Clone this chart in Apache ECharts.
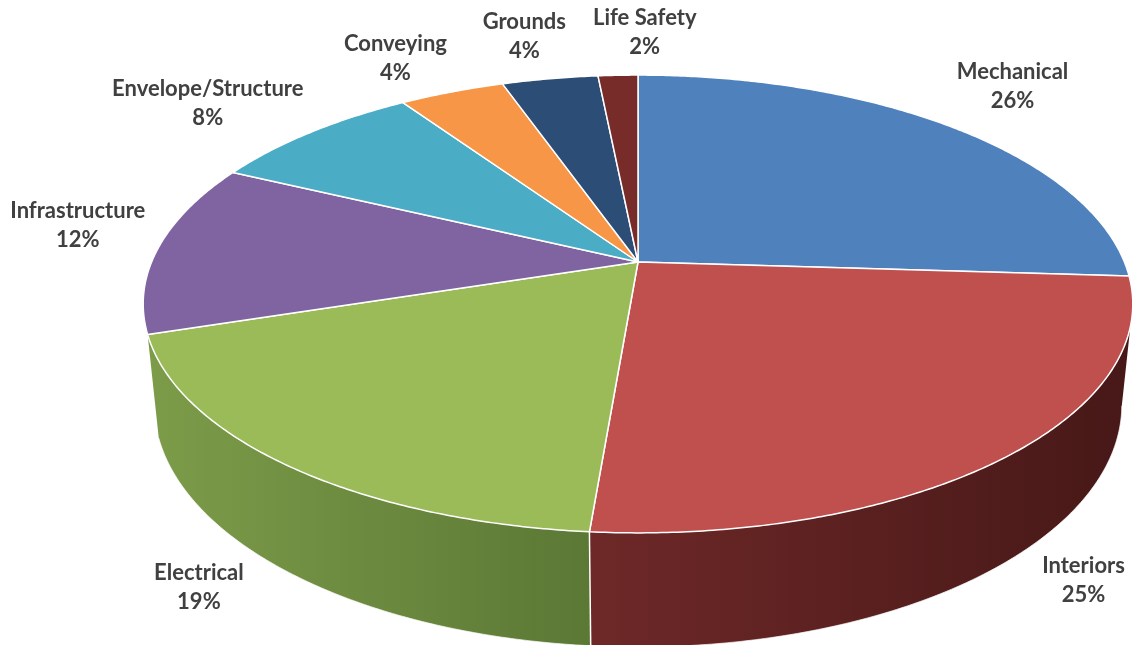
<!DOCTYPE html>
<html>
<head>
<meta charset="utf-8">
<script src="https://cdn.jsdelivr.net/npm/echarts@6/dist/echarts.min.js"></script>
<style>
html,body{margin:0;padding:0;background:#ffffff;}
#chart{width:1132px;height:645px;}
</style>
</head>
<body>
<div id="chart"></div>
<script>
// ---- data ----
const categories = ['Mechanical', 'Interiors', 'Electrical', 'Infrastructure', 'Envelope/Structure', 'Conveying', 'Grounds', 'Life Safety'];
const shares = [26.0, 25.3, 18.7, 12.2, 8.4, 4.1, 3.75, 1.55];

// ---- styling ----
const topColors = ['#4F81BD', '#C0504D', '#9BBB59', '#8064A2', '#4BACC6', '#F79646', '#2C4D75', '#772C2A'];
const sideColors = [
  ['#3d6696', '#2c4c72'],
  ['#6e2828', '#461817'],
  ['#7d9c49', '#5b7835'],
  ['#5f4a7c', '#4a3a61'],
  ['#378499', '#2a6677'],
  ['#c06f2e', '#98561f'],
  ['#203a59', '#182c44'],
  ['#5a1f1e', '#421615']
];
const labelShift = [[6, -3], [2, 0], [-15, -4], [10, 1], [-38, 8], [-26, 8], [-12, 0], [30, 0]];

// ---- perspective camera for a tilted disc ----
const CX = 638, CY = 262, FOCAL = 2362, DIST = 4.856, THICK = 0.2345;
const PHI = 27.05 * Math.PI / 180;
const SINP = Math.sin(PHI), COSP = Math.cos(PHI);

function proj(theta, k, drop) {
  const u = k * Math.sin(theta);
  const t = -k * Math.cos(theta);
  const depth = DIST + drop * SINP - t * COSP;
  return [CX + FOCAL * u / depth, CY + FOCAL * (drop * COSP + t * SINP) / depth];
}

const total = shares.reduce((a, b) => a + b, 0);
const starts = [];
{
  let acc = 0;
  shares.forEach(v => { starts.push(acc); acc += v; });
}
const SIL = Math.acos(-COSP / DIST); // silhouette angle of the rim
const MIN_WALL = 10 * Math.PI / 180;   // slivers narrower than this are not drawn
const FONT = 'bold 22px Lato';
const measureCtx = document.createElement('canvas').getContext('2d');
measureCtx.font = FONT;

function angles(idx, value) {
  const a0 = starts[idx] / total * Math.PI * 2;
  const a1 = a0 + value / total * Math.PI * 2;
  return [a0, a1];
}

function arcPts(a0, a1, k, drop) {
  const pts = [];
  const n = Math.max(2, Math.ceil((a1 - a0) / (Math.PI / 360)));
  for (let i = 0; i <= n; i++) pts.push(proj(a0 + (a1 - a0) * i / n, k, drop));
  return pts;
}

function renderSide(params, api) {
  const i = params.dataIndex;
  const [a0, a1] = angles(i, api.value(0));
  const b0 = Math.max(a0, SIL), b1 = Math.min(a1, Math.PI * 2 - SIL);
  if (b1 - b0 < MIN_WALL) return { type: 'group', children: [] };
  const top = arcPts(b0, b1, 1, 0);
  const botFwd = arcPts(b0, b1, 1, THICK);
  const children = [
    {
      type: 'polygon',
      shape: { points: top.concat(botFwd.slice().reverse()) },
      style: {
        fill: new echarts.graphic.LinearGradient(0, 0, 1, 0, [
          { offset: 0, color: sideColors[i][0] },
          { offset: 1, color: sideColors[i][1] }
        ]),
        stroke: null
      }
    },
    {
      type: 'polyline',
      shape: { points: botFwd },
      style: { stroke: 'rgba(255,255,255,0.7)', lineWidth: 1, fill: null }
    }
  ];
  const margin = 6 * Math.PI / 180;
  if (a0 > SIL + margin && a0 < Math.PI * 2 - SIL - margin) {
    const p = proj(a0, 1, 0), q = proj(a0, 1, THICK);
    children.push({
      type: 'line',
      z2: 5,
      shape: { x1: p[0], y1: p[1], x2: q[0], y2: q[1] },
      style: { stroke: '#ffffff', lineWidth: 1.5 }
    });
  }
  return { type: 'group', children };
}

function renderTop(params, api) {
  const i = params.dataIndex;
  const v = api.value(0);
  const [a0, a1] = angles(i, v);
  const pts = [proj(0, 0, 0)].concat(arcPts(a0, a1, 1, 0));
  const mid = (a0 + a1) / 2;
  const pct = Math.round(v / total * 100) + '%';
  const name = categories[i];
  const w = measureCtx.measureText(name).width;
  const base = proj(mid, 1.15, 0);
  let lx = base[0] + 0.3 * (w / 2) * Math.sin(mid);
  let ly = base[1];
  if (Math.cos(mid) < 0) {
    const low = proj(mid, 1.15, THICK);
    ly += 0.8 * (low[1] - base[1]);
  } else {
    ly -= 20;
  }
  lx += labelShift[i][0];
  ly += labelShift[i][1];
  return {
    type: 'group',
    children: [
      {
        type: 'polygon',
        shape: { points: pts },
        style: { fill: topColors[i], stroke: '#ffffff', lineWidth: 1.5, lineJoin: 'round' }
      },
      {
        type: 'text',
        x: lx, y: ly,
        z2: 50,
        style: {
          text: name + '\n' + pct,
          fill: '#404040',
          font: FONT,
          lineHeight: 29,
          align: 'center',
          verticalAlign: 'middle'
        }
      }
    ]
  };
}

const chart = echarts.init(document.getElementById('chart'), null, { renderer: 'canvas' });
chart.setOption({
  backgroundColor: '#ffffff',
  animation: false,
  series: [
    {
      type: 'custom',
      name: 'sides',
      coordinateSystem: 'none',
      z: 1,
      silent: true,
      data: shares.map(v => [v]),
      renderItem: renderSide
    },
    {
      type: 'custom',
      name: 'tops',
      coordinateSystem: 'none',
      z: 2,
      silent: true,
      data: shares.map(v => [v]),
      renderItem: renderTop
    }
  ]
});
</script>
</body>
</html>
